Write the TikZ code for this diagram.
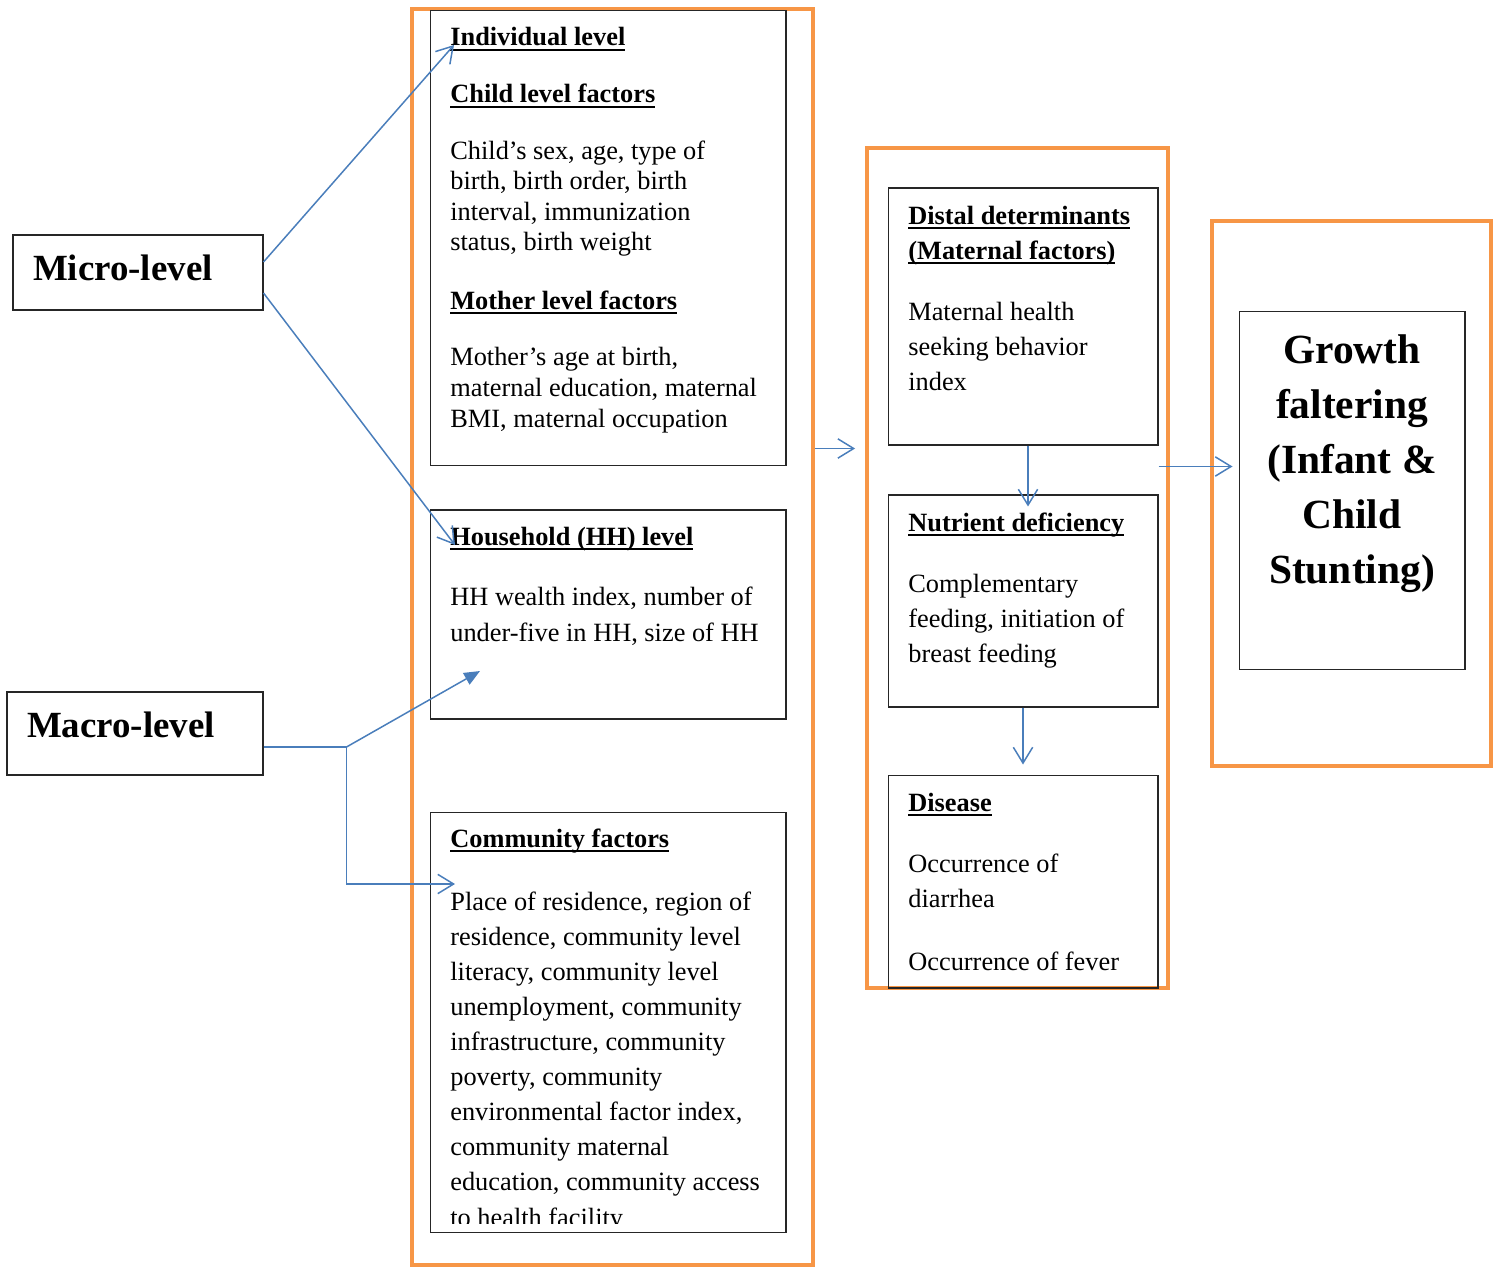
\documentclass[tikz,border=0pt]{standalone}
\usepackage{fontspec}
\setmainfont{Liberation Serif}
\usetikzlibrary{arrows.meta, calc, positioning}
\definecolor{frameorange}{HTML}{F79646}
\definecolor{arrowblue}{HTML}{4A7EBB}
\newsavebox{\hdbox}
\newcommand{\uh}[1]{\sbox{\hdbox}{#1}\rlap{\rule[-2.7pt]{\wd\hdbox}{1.1pt}}\usebox{\hdbox}}
\begin{document}
\begin{tikzpicture}[x=0.02cm, y=-0.02cm]

			\tikzstyle{orangebox} = [rectangle, draw=frameorange, line width=2.2pt, inner sep=0pt]
			\tikzstyle{block} = [rectangle, draw=black!85, line width=0.6pt, inner sep=0pt, minimum width=7.12cm]
			\tikzstyle{level} = [rectangle, draw=black!85, line width=0.6pt, inner ysep=0pt, inner xsep=0.4cm, align=left, font=\fontsize{21}{25}\selectfont\bfseries]
			\tikzstyle{heading} = [anchor=base west, inner sep=0pt, align=left, font=\fontsize{15}{19.8}\selectfont\bfseries]
			\tikzstyle{body} = [anchor=base west, inner sep=0pt, align=left, font=\fontsize{15}{19.96}\selectfont]
			\tikzstyle{arrow} = [draw=arrowblue, line width=0.85pt, -{Straight Barb[length=9pt, width=11pt]}]
			\tikzstyle{solidarrow} = [draw=arrowblue, line width=0.85pt, -{Triangle[length=9pt, width=7.5pt]}]

			\useasboundingbox (0,0) rectangle (1497,1267);

			% Frames
			\node (colA) [orangebox, minimum width=8.02cm, minimum height=25.12cm] at (612.5,637) {};
			\node (colB) [orangebox, minimum width=6.02cm, minimum height=16.8cm] at (1017.5,568) {};
			\node (colC) [orangebox, minimum width=5.58cm, minimum height=10.9cm] at (1351.5,493.5) {};

			% Nodes
			\node (micro) [level, text width=4.2cm, text depth=5pt, minimum height=1.5cm] at (138,272.5) {Micro-level};
			\node (macro) [level, text width=4.32cm, text depth=10pt, minimum height=1.66cm] at (135,733.5) {Macro-level};
			\node (indiv) [block, minimum height=9.12cm] at (608,238) {};
			\node (hh) [block, minimum height=4.18cm] at (608,614.5) {};
			\node (comm) [block, minimum height=8.42cm] at (608,1022.5) {};
			\node (distal) [block, minimum width=5.4cm, minimum height=5.14cm] at (1023,316.5) {};
			\node (nutr) [block, minimum width=5.4cm, minimum height=4.24cm] at (1023,601) {};
			\node (disease) [block, minimum width=5.4cm, minimum height=4.26cm] at (1023,881.5) {};
			\node (growth) [block, minimum width=4.52cm, minimum height=7.18cm] at (1352,490.5) {};

			% Texts (multi-line texts sit on their last baseline)
			\node (indhead) [heading] at (450,46) {\uh{Individual level}};
			\node (childhead) [heading] at (450,103) {\uh{Child level factors}};
			\node (childtext) [body, font=\fontsize{15}{17.4}\selectfont] at (450,251) {Child’s sex, age, type of\\birth, birth order, birth\\interval, immunization\\status, birth weight};
			\node (motherhead) [heading] at (450,309) {\uh{Mother level factors}};
			\node (mothertext) [body, font=\fontsize{15}{17.4}\selectfont] at (450,427) {Mother’s age at birth,\\maternal education, maternal\\BMI, maternal occupation};
			\node (hhhead) [heading] at (450,545) {\uh{Household (HH) level}};
			\node (hhtext) [body] at (450,641) {HH wealth index, number of\\under-five in HH, size of HH};
			\node (comhead) [heading] at (450,847) {\uh{Community factors}};
			\begin{scope}
				\clip (430,812) rectangle (786,1223);
				\node (comtext) [body] at (450,1226) {Place of residence, region of\\residence, community level\\literacy, community level\\unemployment, community\\infrastructure, community\\poverty, community\\environmental factor index,\\community maternal\\education, community access\\to health facility};
			\end{scope}
			\node (distalhead) [heading] at (908,259) {\uh{Distal determinants}\\\uh{(Maternal factors)}};
			\node (distaltext) [body] at (908,390.6) {Maternal health\\seeking behavior\\index};
			\node (nutrhead) [heading] at (908,531) {\uh{Nutrient deficiency}};
			\node (nutrtext) [body] at (908,662.6) {Complementary\\feeding, initiation of\\breast feeding};
			\node (dishead) [heading] at (908,811) {\uh{Disease}};
			\node (distext) [body] at (908,907.3) {Occurrence of\\diarrhea};
			\node (fevertext) [body] at (908,970) {Occurrence of fever};
			\node (growthtext) [anchor=base, align=center, inner sep=0pt, font=\fontsize{23.6}{31.3}\selectfont\bfseries] at (1352,583) {Growth\\faltering\\(Infant \&\\Child\\Stunting)};

			% Arrows
			\draw [arrow] ($(micro.east)+(0,-10.5)$) -- ($(indhead.base west)+(4,-1)$);
			\draw [arrow] ($(micro.east)+(0,20.5)$) -- ($(hhhead.base west)+(5,0)$);
			\coordinate (fork) at ($(macro.east)+(83,13.5)$);
			\coordinate (hhtip) at (480,671);
			\coordinate (comtip) at (455,884);
			\draw [arrowblue, line width=0.85pt] ($(macro.east)+(0,13.5)$) -- (fork);
			\draw [solidarrow] (fork) -- (hhtip);
			\draw [arrow] (fork) |- (comtip);
			\draw [arrow] ($(colA.east |- distal.south)+(0,3)$) -- ($(colB.west |- distal.south)+(-10,3)$);
			\draw [arrow] ([xshift=0.1cm]distal.south) -- ([xshift=0.1cm,yshift=-0.24cm]nutr.north);
			\draw [arrow] (nutr.south) -- ([yshift=0.2cm]disease.north);
			\draw [arrow] ($(distal.south east)+(0,21)$) -- ($(growth.west |- distal.south east)+(-6,21)$);

\end{tikzpicture}
\end{document}
